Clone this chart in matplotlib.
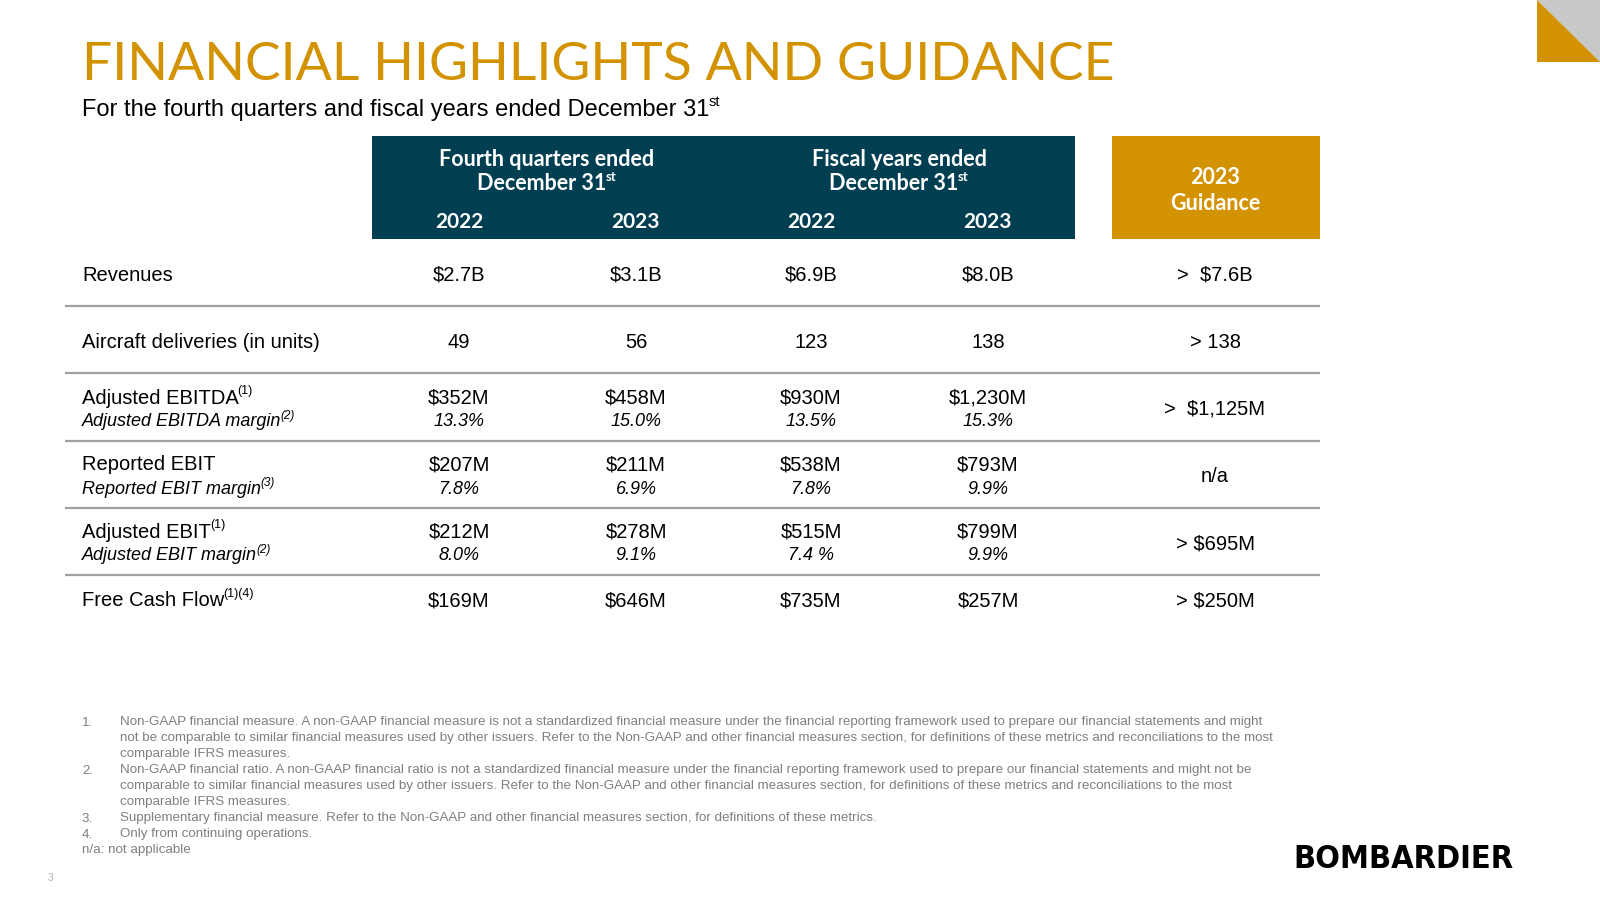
import matplotlib
matplotlib.use("Agg")
import matplotlib.pyplot as plt
from matplotlib.patches import Rectangle, Polygon
from matplotlib import font_manager

# ---------------- data ----------------
title = "FINANCIAL HIGHLIGHTS AND GUIDANCE"
subtitle = "For the fourth quarters and fiscal years ended December 31"
group_headers = ["Fourth quarters ended", "Fiscal years ended"]
years = ["2022", "2023", "2022", "2023"]
guidance_header = ["2023", "Guidance"]

row_labels = ["Revenues", "Aircraft deliveries (in units)", "Adjusted EBITDA",
              "Reported EBIT", "Adjusted EBIT", "Free Cash Flow"]
row_label_sups = ["", "", "(1)", "", "(1)", "(1)(4)"]
margin_labels = ["", "", "Adjusted EBITDA margin", "Reported EBIT margin",
                 "Adjusted EBIT margin", ""]
margin_label_sups = ["", "", "(2)", "(3)", "(2)", ""]

revenues = ["$2.7B", "$3.1B", "$6.9B", "$8.0B"]
deliveries = ["49", "56", "123", "138"]
adj_ebitda = ["$352M", "$458M", "$930M", "$1,230M"]
adj_ebitda_margin = ["13.3%", "15.0%", "13.5%", "15.3%"]
reported_ebit = ["$207M", "$211M", "$538M", "$793M"]
reported_ebit_margin = ["7.8%", "6.9%", "7.8%", "9.9%"]
adj_ebit = ["$212M", "$278M", "$515M", "$799M"]
adj_ebit_margin = ["8.0%", "9.1%", "7.4 %", "9.9%"]
free_cash_flow = ["$169M", "$646M", "$735M", "$257M"]
guidance = [">  $7.6B", "> 138", ">  $1,125M", "n/a", "> $695M", "> $250M"]

footnotes = [
    ("1.", ["Non-GAAP financial measure. A non-GAAP financial measure is not a standardized financial measure under the financial reporting framework used to prepare our financial statements and might",
            "not be comparable to similar financial measures used by other issuers. Refer to the Non-GAAP and other financial measures section, for definitions of these metrics and reconciliations to the most",
            "comparable IFRS measures."]),
    ("2.", ["Non-GAAP financial ratio. A non-GAAP financial ratio is not a standardized financial measure under the financial reporting framework used to prepare our financial statements and might not be",
            "comparable to similar financial measures used by other issuers. Refer to the Non-GAAP and other financial measures section, for definitions of these metrics and reconciliations to the most",
            "comparable IFRS measures."]),
    ("3.", ["Supplementary financial measure. Refer to the Non-GAAP and other financial measures section, for definitions of these metrics."]),
    ("4.", ["Only from continuing operations."]),
]
na_note = "n/a: not applicable"

values = [revenues, deliveries, adj_ebitda, reported_ebit, adj_ebit, free_cash_flow]
margins = [None, None, adj_ebitda_margin, reported_ebit_margin, adj_ebit_margin, None]

# ---------------- style ----------------
GOLD = "#D39200"
TEAL = "#003E51"
GREY_LINE = "#A0A0A0"
FOOT = "#7F7F7F"
BODY = "Liberation Sans"
HEAD = "Lato"

# look for a condensed/narrow font for the logo
condensed = None
for f in font_manager.fontManager.ttflist:
    if f.stretch in ("condensed", "semi-condensed", "extra-condensed") or \
            "Narrow" in f.name or "Condensed" in f.name:
        condensed = f
        break

fig = plt.figure(figsize=(16, 9), dpi=100)
ax = fig.add_axes([0, 0, 1, 1])
ax.set_xlim(0, 1600)
ax.set_ylim(900, 0)
ax.axis("off")
renderer = fig.canvas.get_renderer()


def width_of(t):
    return t.get_window_extent(renderer).width


def text_sup(x, y, main, sup, ha="left", size=14.5, sup_size=9.5, sup_dy=-7,
             **kw):
    t = ax.text(x, y, main, ha="left", va="center", fontsize=size, **kw)
    if not sup:
        if ha == "center":
            t.set_ha("center")
        return t
    s = ax.text(x, y + sup_dy, sup, ha="left", va="center", fontsize=sup_size, **kw)
    w1 = width_of(t)
    w2 = width_of(s)
    x0 = x - (w1 + w2) / 2 if ha == "center" else x
    t.set_x(x0)
    s.set_x(x0 + w1 - 1)
    return t


# title & subtitle
ax.text(82, 66, title, fontsize=38.5, color=GOLD, family=HEAD, fontweight="normal",
        ha="left", va="center")
text_sup(82, 110, subtitle, "st", size=17, sup_size=10.5, sup_dy=-8, family=BODY,
         color="black")

# corner decoration
ax.add_patch(Polygon([(1540, 4), (1603, 4), (1603, 66)], closed=True,
                     facecolor="#E6E6E6", edgecolor="none"))
ax.add_patch(Polygon([(1537, 0), (1600, 0), (1600, 62)], closed=True,
                     facecolor="#C8C8C8", edgecolor="none"))
ax.add_patch(Polygon([(1537, 0), (1537, 62), (1600, 62)], closed=True,
                     facecolor=GOLD, edgecolor="none"))

# header boxes
ax.add_patch(Rectangle((372, 136), 703, 103, facecolor=TEAL, edgecolor="none"))
ax.add_patch(Rectangle((1112, 136), 208, 103, facecolor=GOLD, edgecolor="none"))

col_x = [459, 636, 811, 988]
guid_x = 1215
group_x = [547, 899]
hkw = dict(family=HEAD, fontweight="bold", color="white")
for gx, gh in zip(group_x, group_headers):
    ax.text(gx, 159, gh, ha="center", va="center", fontsize=15.5, **hkw)
    text_sup(gx, 183, "December 31", "st", ha="center", size=15.5, sup_size=9.5,
             sup_dy=-6, **hkw)
for cx, yr in zip(col_x, years):
    ax.text(cx, 222, yr, ha="center", va="center", fontsize=15, **hkw)
ax.text(guid_x, 177, guidance_header[0], ha="center", va="center", fontsize=15.5, **hkw)
ax.text(guid_x, 203, guidance_header[1], ha="center", va="center", fontsize=15.5, **hkw)

# rows
row_main_y = [275.5, 342, 398, 465, 532, 601]
row_margin_y = [None, None, 422, 489, 556, None]
guid_y = [275.5, 342, 409, 477, 544, 601]
sep_y = [306, 373, 441, 508, 575]

for i in range(len(row_labels)):
    text_sup(82, row_main_y[i], row_labels[i], row_label_sups[i], size=14.5,
             sup_size=9, sup_dy=-7, family=BODY, color="black")
    for cx, v in zip(col_x, values[i]):
        ax.text(cx, row_main_y[i], v, ha="center", va="center", fontsize=14.5,
                family=BODY, color="black")
    if margins[i] is not None:
        text_sup(82, row_margin_y[i], margin_labels[i], margin_label_sups[i],
                 size=13, sup_size=8.5, sup_dy=-6, family=BODY, style="italic",
                 color="black")
        for cx, v in zip(col_x, margins[i]):
            ax.text(cx, row_margin_y[i], v, ha="center", va="center", fontsize=13,
                    family=BODY, style="italic", color="black")
    ax.text(guid_x, guid_y[i], guidance[i], ha="center", va="center", fontsize=14.5,
            family=BODY, color="black")

ax.hlines(sep_y, 65, 1320, colors=GREY_LINE, linewidth=1.6)

# footnotes
fy = 722.5
step = 16.0
for num, lines in footnotes:
    ax.text(82, fy, num, ha="left", va="center", fontsize=9.6, family=BODY, color=FOOT)
    for ln in lines:
        ax.text(120.5, fy, ln, ha="left", va="center", fontsize=9.6, family=BODY,
                color=FOOT)
        fy += step
ax.text(82, fy, na_note, ha="left", va="center", fontsize=9.6, family=BODY, color=FOOT)

ax.text(51, 878, "3", ha="center", va="center", fontsize=7.5, family=BODY,
        color="#B0B0B0")

# logo
if condensed is not None:
    fp = font_manager.FontProperties(fname=condensed.fname)
    logo = ax.text(1514, 859, "BOMBARDIER", ha="right", va="center", fontsize=32,
                   fontproperties=fp, fontweight="bold", color="black")
    logo.set_fontsize(32)
    w = width_of(logo)
    if w > 0:
        logo.set_fontsize(32 * min(1.0, 220 / w))
else:
    ax.text(1514, 859, "BOMBARDIER", ha="right", va="center", fontsize=25,
            family=BODY, fontweight="bold", color="black")

fig.savefig("out.png", dpi=100, facecolor="white")
